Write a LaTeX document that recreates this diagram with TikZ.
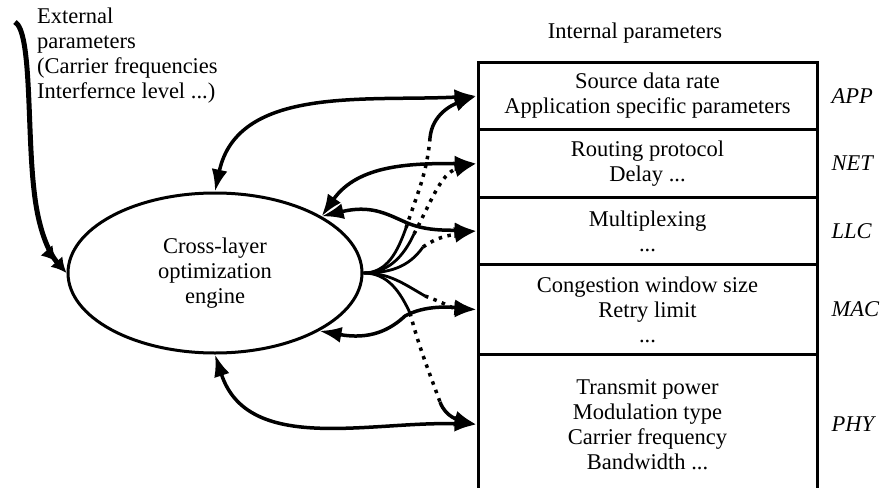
\documentclass[tikz,border=0pt]{standalone}
\usepackage{fontspec}
\setmainfont{Liberation Serif}
\usetikzlibrary{shapes.geometric,arrows.meta,positioning}

\tikzstyle{engine}=[ellipse,draw,line width=3pt,minimum width=294pt,minimum height=160pt,inner sep=0pt,align=center]
\tikzstyle{layer}=[draw,line width=3pt,minimum width=339pt,inner sep=0pt,align=center,anchor=north]
\tikzstyle{tag}=[font=\itshape,inner sep=0pt]
\tikzstyle{link}=[draw,line width=3.5pt,{Latex[length=22pt,width=16pt]}-{Latex[length=22pt,width=16pt]}]
\tikzstyle{link end}=[draw,line width=3.5pt,-{Latex[length=22pt,width=16pt]}]
\tikzstyle{fan}=[draw,line width=2.8pt]
\tikzstyle{dotted link}=[draw,line width=3.5pt,dash pattern=on 3.5pt off 5.5pt]
\tikzstyle{dotted arrow}=[dotted link,-{Latex[length=22pt,width=16pt]}]
\tikzstyle{ext link}=[draw,line width=5pt,-{Latex[length=15pt,width=16pt]Latex[length=15pt,width=16pt]}]

\begin{document}
\fontsize{22.5}{25}\selectfont
\begin{tikzpicture}[x=1pt,y=-1pt]
\path[use as bounding box,clip] (0,0) rectangle (880,487);

\node[engine] (engine) at (215,273) {Cross-layer\\optimization\\engine};
\node[align=left,anchor=north west,inner sep=0pt] (extpar) at (37,8)
  {External\\parameters\\(Carrier frequencies\\Interfernce level ...)};
\node (inthead) at (635,33) {Internal parameters};

\foreach \name/\ytop/\cellh/\txt/\tg in {app/61/67/{Source data rate\\Application specific parameters}/APP,
                                 net/128/68/{Routing protocol\\Delay ...}/NET,
                                 llc/196/67/{Multiplexing\\...}/LLC,
                                 mac/263/90/{Congestion window size\\Retry limit\\...}/MAC,
                                 phy/353/140/{Transmit power\\Modulation type\\Carrier frequency\\Bandwidth ...}/PHY}{
  \node[layer,minimum height=\cellh pt] (\name) at (647.5,\ytop) {\txt};
  \node[tag,right=13pt of \name] (\name tag) {\tg};
}

% external input
\coordinate (extstart) at (15,22);
\path[ext link] (extstart) .. controls (32,32) and (27,130) .. (34,190)
  .. controls (38,228) and (48,252) .. (engine.west);

% solid links
\coordinate (llcbend) at (405,222);
\coordinate (macbend) at (405,316);
\path[link] (engine.north) to[out=78,in=183] (app.west);
\path[link] (engine.28) to[out=55,in=180] (net.west);
\path[link] (engine.28) .. controls (370,205) and (385,213) .. (llcbend)
  .. controls (425,231) and (445,230) .. (llc.west);
\path[link] (engine.-29) .. controls (370,340) and (390,330) .. (macbend)
  .. controls (425,305) and (450,307) .. (mac.west);
\path[link] (engine.south) to[out=-72,in=178] (phy.west);

% fan out of the engine
\coordinate (appfan) at (406,228);
\coordinate (netfan) at (414,234);
\coordinate (llcfan) at (423,247);
\coordinate (macfan) at (425,296);
\coordinate (phyfan) at (410,313);
\coordinate (appdot) at (430,138);
\coordinate (phydot) at (440,402);
\foreach \dest/\ang in {appfan/-110, netfan/-115, llcfan/-125, macfan/150, phyfan/115}
  \path[fan] (engine.east) to[out=0,in=\ang] (\dest);
\path[dotted link] (appfan) to[out=72,in=-95] (appdot);
\path[link end] (appdot) to[out=85,in=200] (app.west);
\path[dotted arrow] (netfan) to[out=62,in=195] (net.west);
\path[dotted arrow] (llcfan) to[out=35,in=190] (llc.west);
\path[dotted arrow] (macfan) to[out=-20,in=180] (mac.west);
\path[dotted link] (phyfan) to[out=-75,in=110] (phydot);
\path[link end] (phydot) to[out=-70,in=165] (phy.west);
\end{tikzpicture}
\end{document}
